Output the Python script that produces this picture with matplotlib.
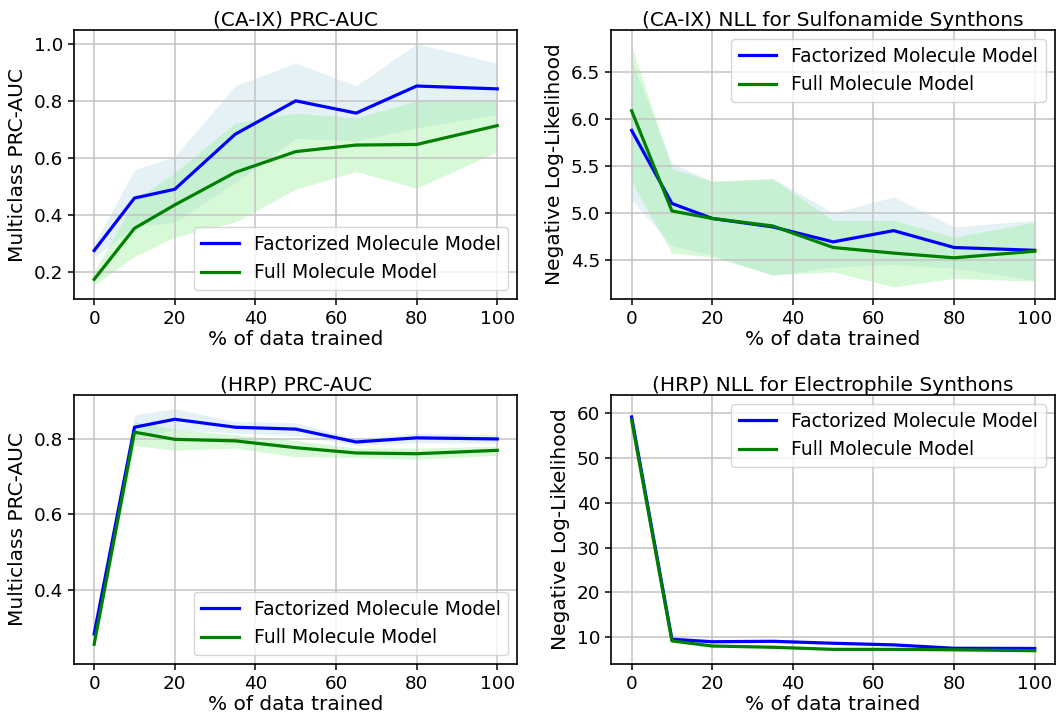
import numpy as np
import matplotlib
matplotlib.use('Agg')
import matplotlib.pyplot as plt

pct_trained = [0, 10, 20, 35, 50, 65, 80, 100]
labels = ['Factorized Molecule Model', 'Full Molecule Model']

# (CA-IX) PRC-AUC
caix_auc_fact = [0.275, 0.459, 0.49, 0.683, 0.80, 0.757, 0.852, 0.842]
caix_auc_fact_lo = [0.25, 0.36, 0.375, 0.513, 0.668, 0.66, 0.706, 0.752]
caix_auc_fact_hi = [0.30, 0.558, 0.605, 0.853, 0.932, 0.853, 1.0, 0.932]
caix_auc_full = [0.174, 0.353, 0.435, 0.549, 0.622, 0.645, 0.647, 0.713]
caix_auc_full_lo = [0.154, 0.254, 0.322, 0.376, 0.49, 0.552, 0.494, 0.622]
caix_auc_full_hi = [0.20, 0.452, 0.548, 0.722, 0.757, 0.74, 0.80, 0.80]

# (CA-IX) NLL
caix_nll_fact = [5.88, 5.10, 4.94, 4.85, 4.69, 4.81, 4.63, 4.60]
caix_nll_fact_lo = [5.14, 4.65, 4.55, 4.33, 4.42, 4.45, 4.41, 4.28]
caix_nll_fact_hi = [6.62, 5.53, 5.33, 5.37, 5.0, 5.17, 4.85, 4.92]
caix_nll_full = [6.09, 5.02, 4.94, 4.86, 4.63, 4.57, 4.52, 4.59]
caix_nll_full_lo = [5.33, 4.57, 4.53, 4.34, 4.37, 4.21, 4.30, 4.27]
caix_nll_full_hi = [6.78, 5.47, 5.34, 5.36, 4.92, 4.92, 4.74, 4.90]

# (HRP) PRC-AUC
hrp_auc_fact = [0.284, 0.83, 0.851, 0.83, 0.825, 0.791, 0.802, 0.799]
hrp_auc_fact_lo = [0.28, 0.80, 0.823, 0.815, 0.808, 0.782, 0.789, 0.788]
hrp_auc_fact_hi = [0.29, 0.863, 0.879, 0.845, 0.842, 0.80, 0.815, 0.81]
hrp_auc_full = [0.257, 0.817, 0.798, 0.794, 0.776, 0.762, 0.760, 0.769]
hrp_auc_full_lo = [0.25, 0.782, 0.769, 0.775, 0.752, 0.75, 0.745, 0.756]
hrp_auc_full_hi = [0.264, 0.845, 0.825, 0.81, 0.795, 0.775, 0.775, 0.78]

# (HRP) NLL
hrp_nll_fact = [59.2, 9.55, 9.0, 9.1, 8.66, 8.3, 7.54, 7.5]
hrp_nll_fact_lo = [58.9, 9.2, 8.7, 8.8, 8.4, 8.0, 7.3, 7.3]
hrp_nll_fact_hi = [59.5, 9.9, 9.3, 9.4, 8.9, 8.6, 7.8, 7.7]
hrp_nll_full = [58.5, 9.18, 8.05, 7.77, 7.3, 7.3, 7.2, 7.0]
hrp_nll_full_lo = [58.2, 8.9, 7.8, 7.5, 7.1, 7.1, 7.0, 6.8]
hrp_nll_full_hi = [58.8, 9.45, 8.3, 8.0, 7.5, 7.5, 7.4, 7.2]

plt.rcParams['font.family'] = 'DejaVu Sans'
plt.rcParams['axes.linewidth'] = 1.2
plt.rcParams['xtick.major.width'] = 1.1
plt.rcParams['ytick.major.width'] = 1.1
plt.rcParams['xtick.major.size'] = 4.5
plt.rcParams['ytick.major.size'] = 4.5


def plot_panel(ax, fact, fact_lo, fact_hi, full, full_lo, full_hi,
               title, ylabel, ylim, yticks, legend_loc):
    ax.fill_between(pct_trained, fact_lo, fact_hi, color='lightblue', alpha=0.33, linewidth=0)
    ax.fill_between(pct_trained, full_lo, full_hi, color='lightgreen', alpha=0.35, linewidth=0)
    ax.plot(pct_trained, fact, color='blue', lw=2.3, label=labels[0])
    ax.plot(pct_trained, full, color='green', lw=2.3, label=labels[1])
    ax.grid(True, color='#c4c4c4', linewidth=1.1)
    ax.set_xlim(-5, 105)
    ax.set_xticks([0, 20, 40, 60, 80, 100])
    ax.set_ylim(*ylim)
    ax.set_yticks(yticks)
    ax.tick_params(labelsize=13.2)
    ax.set_title(title, fontsize=14.5, pad=3)
    ax.set_xlabel('% of data trained', fontsize=14.5, labelpad=1.2)
    ax.set_ylabel(ylabel, fontsize=14.5, labelpad=5)
    ax.legend(loc=legend_loc, fontsize=13.5, handlelength=2.0)


fig, axes = plt.subplots(2, 2, figsize=(10.57, 7.17), dpi=100)
fig.subplots_adjust(left=0.070, right=0.998, bottom=0.074, top=0.958,
                    wspace=0.212, hspace=0.357)

plot_panel(axes[0, 0], caix_auc_fact, caix_auc_fact_lo, caix_auc_fact_hi,
           caix_auc_full, caix_auc_full_lo, caix_auc_full_hi,
           '(CA-IX) PRC-AUC', 'Multiclass PRC-AUC', (0.105, 1.048),
           [0.2, 0.4, 0.6, 0.8, 1.0], 'lower right')
plot_panel(axes[0, 1], caix_nll_fact, caix_nll_fact_lo, caix_nll_fact_hi,
           caix_nll_full, caix_nll_full_lo, caix_nll_full_hi,
           '(CA-IX) NLL for Sulfonamide Synthons', 'Negative Log-Likelihood',
           (4.08, 6.95), [4.5, 5.0, 5.5, 6.0, 6.5], 'upper right')
plot_panel(axes[1, 0], hrp_auc_fact, hrp_auc_fact_lo, hrp_auc_fact_hi,
           hrp_auc_full, hrp_auc_full_lo, hrp_auc_full_hi,
           '(HRP) PRC-AUC', 'Multiclass PRC-AUC', (0.205, 0.915),
           [0.4, 0.6, 0.8], 'lower right')
plot_panel(axes[1, 1], hrp_nll_fact, hrp_nll_fact_lo, hrp_nll_fact_hi,
           hrp_nll_full, hrp_nll_full_lo, hrp_nll_full_hi,
           '(HRP) NLL for Electrophile Synthons', 'Negative Log-Likelihood',
           (4.04, 64.1), [10, 20, 30, 40, 50, 60], 'upper right')

fig.savefig('out.png', dpi=100)
